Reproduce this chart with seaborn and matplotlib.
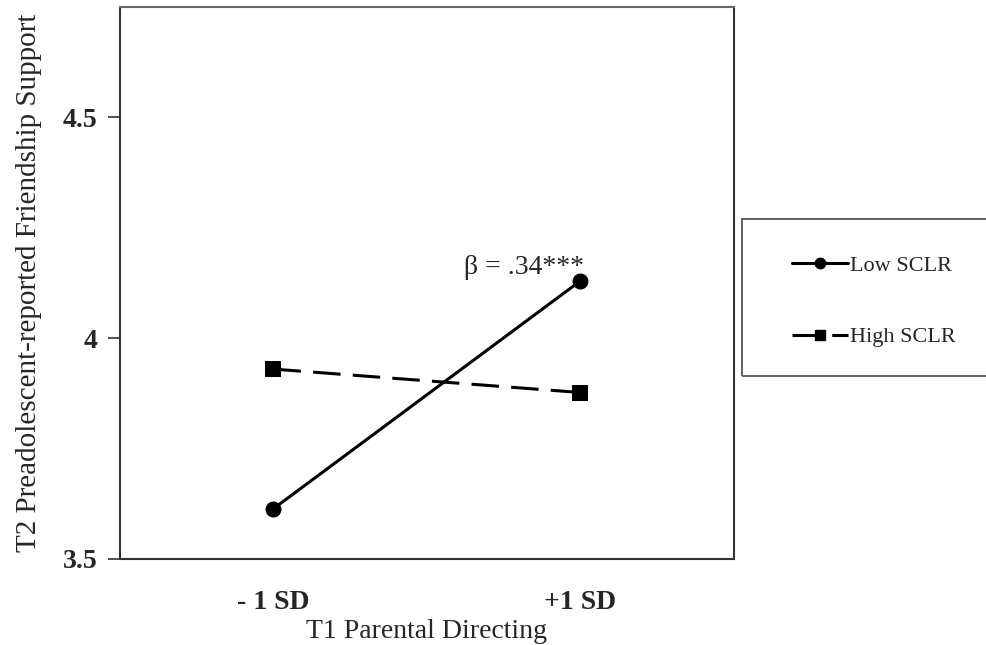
import pandas as pd
import matplotlib
matplotlib.use('Agg')
import matplotlib.pyplot as plt
from matplotlib.patches import Rectangle
import seaborn as sns

# Datos
niveles = ['- 1 SD', '+1 SD']
grupos = ['Low SCLR', 'High SCLR']
low_sclr = [3.614, 4.13]
high_sclr = [3.93, 3.877]
yticks = [3.5, 4, 4.5]
ytick_labels = ['3.5', '4', '4.5']

df = pd.DataFrame({
    'nivel': niveles * 2,
    'grupo': [grupos[0]] * 2 + [grupos[1]] * 2,
    'valor': low_sclr + high_sclr,
})

sns.set_style('white')
plt.rcParams['font.family'] = ['Liberation Serif', 'DejaVu Serif']

fig = plt.figure(figsize=(9.87, 6.45), dpi=100)
ax = fig.add_axes([120 / 987, (645 - 559) / 645, (734 - 120) / 987, (559 - 7) / 645])

sns.lineplot(data=df, x='nivel', y='valor', hue='grupo', style='grupo',
             palette={'Low SCLR': 'black', 'High SCLR': 'black'},
             markers={'Low SCLR': 'o', 'High SCLR': 's'},
             dashes={'Low SCLR': '', 'High SCLR': (9, 4)},
             markersize=11.5, linewidth=2.2, markeredgewidth=0,
             ax=ax, legend=False, sort=False)

ax.set_xlim(-0.5, 1.5)
ax.set_ylim(3.5, 4.75)
ax.set_yticks(yticks)
ax.set_yticklabels(ytick_labels, fontsize=20, fontweight='bold')
ax.set_xticks([0, 1])
ax.set_xticklabels(niveles, fontsize=20, fontweight='bold')
ax.set_xticks([-0.5, 0.5, 1.5], minor=True)
ax.tick_params(axis='x', which='major', length=0, pad=22)
ax.tick_params(axis='x', which='minor', length=8, width=1.2, direction='out', color='#444444')
ax.tick_params(axis='y', which='major', length=9, width=1.2, direction='out', pad=7, color='#333333')
ax.tick_params(left=True, bottom=True)

for s in ax.spines.values():
    s.set_visible(True)
    s.set_color('#333333')
    s.set_linewidth(1.5)
ax.spines['top'].set_color('#666666')

ax.set_xlabel('T1 Parental Directing', fontsize=20, labelpad=3)
ax.set_ylabel('T2 Preadolescent-reported Friendship Support', fontsize=21, labelpad=15)

ax.text(1.01, 4.145, 'β = .34***', fontsize=20, ha='right', va='baseline')

# Caja de la leyenda (se corta en el borde derecho)
fig.patches.append(Rectangle((742 / 987, (645 - 376) / 645), 0.3, 157 / 645,
                             transform=fig.transFigure, fill=False,
                             edgecolor='#555555', linewidth=1.3))

handles = [
    plt.Line2D([], [], color='black', lw=2.2, marker='o', markersize=7.5),
    plt.Line2D([], [], color='black', lw=2.2, marker='s', markersize=7.5, dashes=(9, 4)),
]
fig.legend(handles, grupos, loc='upper left', bbox_to_anchor=(781 / 987, (645 - 244) / 645),
           frameon=False, fontsize=16, handlelength=2.5, handletextpad=0.1,
           labelspacing=2.3, borderpad=0)

fig.savefig('out.png', dpi=100)
